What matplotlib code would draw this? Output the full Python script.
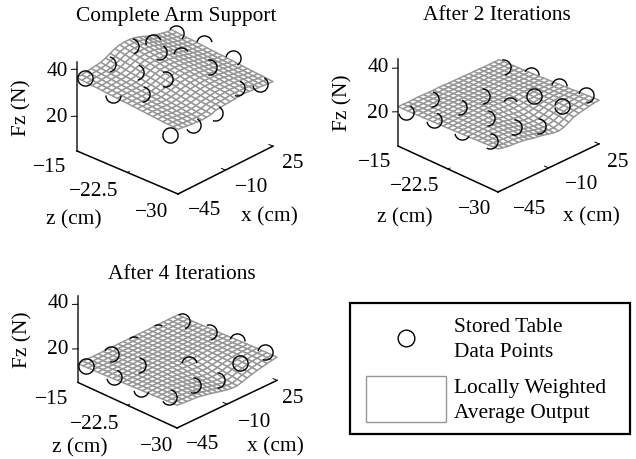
import numpy as np
import matplotlib
matplotlib.use("Agg")
import matplotlib.pyplot as plt
from matplotlib.path import Path
from matplotlib.patches import Rectangle
from mpl_toolkits.mplot3d import proj3d

plt.rcParams['font.family'] = ['Liberation Serif', 'DejaVu Serif']

# mesh axes (x along columns, z along rows)
mesh_x = [-45, -41.5, -38, -34.5, -31, -27.5, -24, -20.5, -17, -13.5, -10,
          -6.5, -3, 0.5, 4, 7.5, 11, 14.5, 18, 21.5, 25]
mesh_z = [-15, -15.75, -16.5, -17.25, -18, -18.75, -19.5, -20.25, -21, -21.75, -22.5,
          -23.25, -24, -24.75, -25.5, -26.25, -27, -27.75, -28.5, -29.25, -30]

# stored table locations
table_x = [-45, -28, -11.5, 5, 22]
table_z = [-16.25, -20.4, -24.6, -28.75]

# stored table force values
table_a = [[37.6, 38.7, 41.6, 38.7, 37.3],
           [35.6, 40.3, 44.0, 38.2, 38.2],
           [41.1, 42.6, 44.0, 38.3, 37.2],
           [29.0, 28.3, 28.3, 34.1, 30.8]]
table_b = [[21.7, 22.3, 21.2, 21.3, 21.1],
           [23.7, 24.6, 24.3, 24.0, 23.4],
           [24.1, 25.3, 25.9, 24.9, 24.3],
           [26.1, 27.0, 22.0, 26.4, 25.8]]
table_c = [[13.8, 14.0, 13.8, 14.0, 13.7],
           [14.7, 14.8, 15.7, 15.9, 14.5],
           [15.0, 16.6, 16.0, 16.2, 16.0],
           [16.9, 17.3, 14.7, 17.0, 16.8]]

# locally weighted output
surf_a = [
    [36.4,36.6,36.9,37.2,37.5,37.8,38.6,39.6,40.6,41.2,41.4,41.4,41.1,40.5,39.7,38.8,38.1,37.5,37.0,36.6,36.4],
    [36.2,36.4,36.7,37.0,37.2,37.5,38.3,39.2,40.2,40.8,41.0,41.0,40.7,40.2,39.4,38.5,37.9,37.3,36.8,36.4,36.2],
    [36.0,36.2,36.5,36.7,36.9,37.2,37.9,38.8,39.8,40.4,40.6,40.6,40.4,39.8,39.1,38.3,37.7,37.1,36.6,36.2,36.0],
    [35.8,36.0,36.2,36.5,36.7,36.9,37.6,38.5,39.4,40.0,40.2,40.2,40.0,39.5,38.8,38.0,37.4,36.9,36.4,36.0,35.8],
    [35.7,35.8,36.0,36.2,36.4,36.6,37.3,38.1,39.0,39.6,39.8,39.8,39.6,39.1,38.5,37.8,37.2,36.7,36.2,35.8,35.7],
    [35.5,35.6,35.8,36.0,36.1,36.3,36.9,37.7,38.6,39.2,39.4,39.4,39.2,38.8,38.2,37.5,37.0,36.5,36.0,35.7,35.5],
    [35.3,35.4,35.6,35.7,35.8,36.0,36.6,37.3,38.2,38.8,39.0,39.0,38.8,38.4,37.9,37.3,36.8,36.3,35.8,35.5,35.3],
    [35.1,35.2,35.3,35.4,35.5,35.7,36.2,36.9,37.7,38.3,38.6,38.6,38.4,38.1,37.6,37.0,36.5,36.1,35.6,35.3,35.1],
    [34.9,35.0,35.1,35.2,35.2,35.3,35.8,36.5,37.3,37.9,38.1,38.2,38.0,37.7,37.3,36.8,36.3,35.9,35.4,35.1,34.9],
    [34.7,34.8,34.9,34.9,34.9,35.0,35.5,36.1,36.8,37.4,37.7,37.8,37.6,37.4,37.0,36.5,36.1,35.7,35.2,34.9,34.7],
    [34.6,34.6,34.6,34.6,34.6,34.7,35.1,35.7,36.4,37.0,37.3,37.4,37.3,37.1,36.7,36.3,35.9,35.5,35.0,34.7,34.6],
    [34.4,34.4,34.4,34.3,34.3,34.4,34.7,35.3,36.0,36.5,36.9,37.0,36.9,36.7,36.4,36.0,35.6,35.3,34.9,34.5,34.4],
    [34.2,34.2,34.1,34.1,34.0,34.0,34.4,34.9,35.5,36.1,36.4,36.6,36.5,36.4,36.1,35.8,35.4,35.1,34.7,34.3,34.2],
    [34.0,34.0,33.9,33.8,33.7,33.7,34.0,34.5,35.1,35.6,36.0,36.1,36.1,36.0,35.8,35.5,35.2,34.9,34.5,34.2,34.0],
    [33.8,33.8,33.6,33.5,33.4,33.4,33.7,34.1,34.6,35.2,35.5,35.7,35.8,35.7,35.5,35.3,35.0,34.7,34.3,34.0,33.8],
    [33.6,33.6,33.4,33.2,33.1,33.1,33.3,33.7,34.2,34.7,35.1,35.3,35.4,35.3,35.2,35.0,34.7,34.4,34.1,33.8,33.6],
    [33.4,33.4,33.2,33.0,32.8,32.8,33.0,33.3,33.9,34.3,34.6,34.9,35.0,35.0,34.9,34.7,34.5,34.2,33.9,33.6,33.4],
    [33.2,33.2,32.9,32.7,32.5,32.4,32.6,32.9,33.6,33.9,34.2,34.5,34.7,34.7,34.6,34.5,34.3,34.0,33.7,33.4,33.2],
    [33.1,33.0,32.7,32.5,32.3,32.2,32.3,32.6,33.4,33.6,33.9,34.1,34.4,34.5,34.4,34.2,34.0,33.7,33.4,33.2,33.1],
    [32.9,32.7,32.4,32.2,32.0,31.9,32.0,32.3,33.1,33.3,33.5,33.7,34.1,34.1,34.0,33.9,33.7,33.4,33.2,33.0,32.9],
    [32.7,32.5,32.2,32.0,31.8,31.6,31.7,32.0,32.8,33.0,33.2,33.3,33.5,33.8,33.8,33.6,33.4,33.2,33.0,32.8,32.7]]
surf_b = [
    [22.3,22.3,22.2,22.3,22.4,22.3,22.2,22.2,22.3,22.2,22.1,22.1,22.0,22.0,21.9,21.9,21.9,21.8,21.8,21.8,21.8],
    [22.4,22.4,22.3,22.4,22.5,22.4,22.4,22.3,22.4,22.3,22.3,22.2,22.1,22.1,22.0,22.0,22.0,21.9,21.9,21.9,21.9],
    [22.4,22.5,22.4,22.5,22.6,22.6,22.5,22.5,22.5,22.4,22.4,22.3,22.2,22.2,22.2,22.1,22.1,22.0,22.0,22.0,22.0],
    [22.5,22.6,22.5,22.6,22.7,22.7,22.7,22.6,22.6,22.6,22.5,22.4,22.3,22.3,22.3,22.2,22.2,22.1,22.1,22.1,22.1],
    [22.6,22.7,22.6,22.7,22.8,22.8,22.8,22.8,22.8,22.7,22.6,22.5,22.4,22.4,22.4,22.4,22.3,22.3,22.2,22.2,22.2],
    [22.6,22.7,22.7,22.8,22.9,23.0,23.0,22.9,22.9,22.8,22.7,22.6,22.5,22.5,22.5,22.5,22.5,22.4,22.3,22.3,22.3],
    [22.7,22.8,22.8,22.9,23.0,23.1,23.1,23.1,23.0,23.0,22.8,22.7,22.6,22.6,22.7,22.7,22.6,22.5,22.4,22.4,22.4],
    [22.8,22.9,22.9,23.0,23.1,23.2,23.2,23.2,23.2,23.1,22.9,22.7,22.6,22.7,22.8,22.8,22.8,22.7,22.6,22.5,22.5],
    [22.9,22.9,23.0,23.1,23.2,23.3,23.3,23.3,23.3,23.2,23.0,22.8,22.7,22.8,22.9,22.9,22.9,22.8,22.7,22.6,22.6],
    [22.9,23.0,23.1,23.2,23.3,23.3,23.4,23.4,23.4,23.3,23.1,22.9,22.8,22.9,23.0,23.1,23.1,23.0,22.9,22.8,22.8],
    [23.0,23.1,23.2,23.3,23.4,23.4,23.5,23.5,23.5,23.4,23.2,22.9,22.8,22.9,23.1,23.2,23.2,23.1,23.0,22.9,22.9],
    [23.1,23.2,23.3,23.4,23.4,23.4,23.4,23.3,23.2,23.0,22.7,22.5,22.5,22.6,22.9,23.0,23.1,23.1,23.1,23.0,23.0],
    [23.2,23.3,23.4,23.4,23.4,23.3,23.3,23.1,22.9,22.6,22.3,22.1,22.2,22.4,22.7,22.9,23.1,23.2,23.2,23.2,23.2],
    [23.3,23.4,23.5,23.5,23.5,23.3,23.1,22.8,22.5,22.2,21.8,21.6,21.8,22.1,22.5,22.9,23.1,23.3,23.3,23.3,23.3],
    [23.4,23.5,23.5,23.5,23.5,23.2,22.9,22.6,22.1,21.7,21.4,21.2,21.4,21.8,22.4,22.9,23.2,23.4,23.5,23.5,23.4],
    [23.5,23.6,23.6,23.6,23.5,23.2,22.8,22.3,21.7,21.2,20.9,20.7,20.9,21.5,22.3,23.0,23.3,23.5,23.6,23.6,23.6],
    [23.6,23.6,23.5,23.5,23.3,23.0,22.6,22.1,21.5,20.9,20.6,20.4,20.6,21.2,22.1,22.8,23.2,23.5,23.7,23.8,23.8],
    [23.7,23.6,23.4,23.3,23.2,22.9,22.4,21.9,21.3,20.7,20.3,20.0,20.2,20.9,21.9,22.6,23.1,23.5,23.8,23.9,23.9],
    [23.8,23.6,23.3,23.2,23.0,22.7,22.2,21.7,21.2,20.6,20.1,19.7,19.8,20.5,21.6,22.5,23.1,23.4,23.8,24.0,24.1],
    [23.9,23.5,23.1,22.9,22.8,22.5,22.0,21.4,21.0,20.5,20.0,19.5,19.4,20.1,21.2,22.3,23.0,23.3,23.7,24.1,24.2],
    [24.0,23.5,23.0,22.8,22.6,22.3,21.8,21.2,20.9,20.4,19.9,19.3,19.0,19.6,20.8,22.1,22.7,23.2,23.7,24.1,24.3]]
surf_c = [
    [13.3,13.3,13.4,13.4,13.4,13.5,13.5,13.5,13.6,13.6,13.6,13.6,13.7,13.7,13.7,13.8,13.8,13.8,13.9,13.9,13.9],
    [13.4,13.4,13.4,13.5,13.5,13.6,13.6,13.6,13.6,13.7,13.7,13.7,13.7,13.8,13.8,13.8,13.9,13.9,13.9,13.9,13.9],
    [13.5,13.5,13.5,13.5,13.6,13.6,13.7,13.7,13.7,13.7,13.7,13.8,13.8,13.8,13.8,13.9,13.9,13.9,14.0,14.0,14.0],
    [13.6,13.6,13.6,13.6,13.7,13.7,13.8,13.8,13.8,13.8,13.8,13.8,13.8,13.9,13.9,13.9,14.0,14.0,14.0,14.0,14.0],
    [13.6,13.7,13.7,13.7,13.8,13.8,13.9,13.9,13.9,13.9,13.9,13.9,13.9,13.9,14.0,14.0,14.0,14.1,14.1,14.1,14.1],
    [13.7,13.8,13.8,13.8,13.9,13.9,14.0,14.0,14.0,14.0,14.0,14.0,14.0,14.0,14.0,14.1,14.1,14.1,14.2,14.2,14.2],
    [13.8,13.9,13.9,13.9,14.0,14.0,14.1,14.1,14.1,14.1,14.1,14.0,14.0,14.1,14.1,14.1,14.2,14.2,14.2,14.3,14.3],
    [13.9,13.9,14.0,14.0,14.1,14.1,14.2,14.2,14.2,14.2,14.1,14.1,14.1,14.1,14.2,14.2,14.3,14.3,14.3,14.3,14.4],
    [14.0,14.0,14.1,14.1,14.2,14.2,14.3,14.3,14.3,14.3,14.2,14.2,14.2,14.2,14.2,14.3,14.3,14.4,14.4,14.4,14.4],
    [14.1,14.1,14.2,14.2,14.3,14.3,14.4,14.4,14.4,14.4,14.3,14.2,14.2,14.3,14.3,14.4,14.4,14.4,14.5,14.5,14.5],
    [14.2,14.2,14.3,14.3,14.4,14.4,14.5,14.5,14.5,14.4,14.3,14.2,14.2,14.3,14.4,14.5,14.5,14.5,14.6,14.6,14.6],
    [14.3,14.3,14.4,14.4,14.4,14.5,14.5,14.4,14.3,14.2,14.0,13.9,14.0,14.1,14.3,14.4,14.5,14.6,14.6,14.6,14.7],
    [14.4,14.4,14.5,14.5,14.5,14.5,14.4,14.3,14.1,13.9,13.7,13.6,13.7,13.9,14.1,14.3,14.5,14.6,14.7,14.7,14.8],
    [14.5,14.5,14.6,14.6,14.6,14.5,14.3,14.1,13.8,13.5,13.3,13.2,13.3,13.6,13.9,14.3,14.5,14.6,14.8,14.8,14.9],
    [14.6,14.6,14.7,14.7,14.6,14.5,14.2,13.9,13.5,13.2,12.9,12.8,12.9,13.3,13.7,14.2,14.5,14.7,14.8,14.9,15.0],
    [14.7,14.7,14.7,14.7,14.6,14.4,14.1,13.6,13.2,12.8,12.5,12.4,12.5,13.0,13.6,14.1,14.5,14.7,14.9,15.0,15.1],
    [14.8,14.8,14.8,14.7,14.6,14.3,14.0,13.5,13.0,12.5,12.2,12.0,12.2,12.7,13.4,14.0,14.4,14.7,15.0,15.1,15.2],
    [14.9,14.8,14.8,14.7,14.5,14.2,13.8,13.4,12.9,12.3,11.9,11.7,11.8,12.4,13.2,13.8,14.3,14.6,14.9,15.1,15.2],
    [15.0,14.9,14.8,14.6,14.5,14.2,13.7,13.3,12.7,12.2,11.7,11.4,11.5,12.1,12.9,13.6,14.2,14.6,14.9,15.2,15.3],
    [15.1,14.9,14.7,14.6,14.4,14.1,13.6,13.1,12.6,12.0,11.5,11.2,11.2,11.8,12.7,13.3,13.9,14.4,14.8,15.1,15.3],
    [15.1,14.9,14.7,14.5,14.4,14.0,13.5,13.0,12.4,11.9,11.4,11.0,11.0,11.6,12.4,13.0,13.6,14.1,14.6,15.0,15.3]]

titles = ["Complete Arm Support", "After 2 Iterations", "After 4 Iterations"]
fz_ticks = [20, 40]
x_ticks = [-45, -10, 25]
z_ticks = [-15, -22.5, -30]
x_tick_labels = ["\u221245", "\u221210", "25"]
z_tick_labels = ["\u221215", "\u221222.5", "\u221230"]
legend_labels = ["Stored Table\nData Points", "Locally Weighted\nAverage Output"]

# which part of each circle shows through the mesh, degrees
arcs_a = [[(0, 360), (-80, 80), (-70, 80), (20, 200), (-45, 150)],
          [(180, 360), (-80, 70), (-110, 60), (30, 170), (10, 170)],
          [(-90, 80), (-110, 110), None, (-100, 100), (-60, 170)],
          [(0, 360), (-150, 60), (-110, 60), (-110, 70), (-170, 60)]]
arcs_b = [[(-170, 60), (-90, 80), None, None, (-80, 100)],
          [(-170, 70), (-100, 70), (-90, 90), None, (0, 150)],
          [(190, 330), (-90, 90), (30, 150), (-180, 180), (0, 170)],
          [(-120, 90), (-110, 90), (-100, 90), (-170, 170), (-90, 170)]]
arcs_c = [[(0, 360), (-100, 150), (60, 130), (60, 120), (-70, 120)],
          [(-170, 70), (-90, 80), None, None, (-80, 110)],
          [(190, 340), None, (10, 170), None, (0, 160)],
          [(-150, 80), (-110, 90), (-90, 90), (-180, 180), (-110, 170)]]

W, H = 636, 460
fig = plt.figure(figsize=(W / 100, H / 100), dpi=100)
GREY = '#969696'


def arc_marker(t1, t2):
    arc = Path.arc(t1, t2)
    # stray moveto keeps the marker scale the same for every arc
    verts = np.vstack([[1.1, 1.1], arc.vertices])
    codes = np.concatenate([[Path.MOVETO], arc.codes])
    return Path(verts, codes)


def to_px(ax, x, z, h):
    px, py, _ = proj3d.proj_transform(x, z, h, ax.get_proj())
    return ax.transData.transform((px, py))


def panel(surf, table, arcs, fz_lim, corner, width, view, box):
    ax = fig.add_axes([0.1, 0.1, 0.4, 0.4], projection='3d', proj_type='ortho',
                      computed_zorder=False)
    ax.set_xlim(-45, 25)
    ax.set_ylim(-30, -15)
    ax.set_zlim(*fz_lim)
    ax.view_init(elev=view[0], azim=view[1])
    ax.set_axis_off()
    ax.patch.set_alpha(0)
    zoom = 1.0
    ax.set_box_aspect(box, zoom=zoom)

    # fit the box on the pixel corners of the reference
    for _ in range(3):
        fig.canvas.draw()
        left = to_px(ax, -45, -15, fz_lim[0])
        right = to_px(ax, 25, -30, fz_lim[0])
        zoom *= width / (right[0] - left[0])
        ax.set_box_aspect(box, zoom=zoom)
        fig.canvas.draw()
        bottom = to_px(ax, -45, -30, fz_lim[0])
        pos = ax.get_position()
        ax.set_position([pos.x0 + (corner[0] - bottom[0]) / W,
                         pos.y0 + (H - corner[1] - bottom[1]) / H,
                         pos.width, pos.height])

    X, Z = np.meshgrid(mesh_x, mesh_z)
    mesh = ax.plot_surface(X, Z, np.array(surf), rstride=1, cstride=1, color='white',
                           edgecolor=GREY, linewidth=1.05, shade=False, zorder=2)
    mesh.set_clip_on(False)

    # box lines and ticks
    lo, hi = fz_lim
    ax.plot([-45, -45], [-15, -15], [lo, hi], color='#222222', lw=1.1, zorder=3, clip_on=False)
    ax.plot([-45, -45], [-15, -30], [lo, lo], color='black', lw=1.1, zorder=3, clip_on=False)
    ax.plot([-45, 25], [-30, -30], [lo, lo], color='black', lw=1.1, zorder=3, clip_on=False)
    for t in fz_ticks:
        ax.plot([-45, -47], [-15, -14.6], [t, t], color='black', lw=0.7, zorder=3, clip_on=False)
    for t in x_ticks[1:]:
        ax.plot([t, t], [-30, -29.4], [lo, lo], color='black', lw=0.7, zorder=3, clip_on=False)
    for t in z_ticks[1:]:
        ax.plot([-45, -43.6], [t, t], [lo, lo], color='black', lw=0.7, zorder=3, clip_on=False)

    for i, zv in enumerate(table_z):
        for j, xv in enumerate(table_x):
            if arcs[i][j] is None:
                continue
            ax.plot([xv], [zv], [table[i][j]], ls='none', marker=arc_marker(*arcs[i][j]),
                    ms=12, mfc='none', mec='black', mew=1.0, zorder=4, clip_on=False)
    return ax


panel(surf_a, table_a, arcs_a, (5.2, 43), (178, 195), 196, (27.6, -137.4), (140, 137, 100))
panel(surf_b, table_b, arcs_b, (4.3, 44), (498, 193), 201, (27.9, -135.5), (144, 140, 98))
panel(surf_c, table_c, arcs_c, (4.9, 43.7), (177, 429), 199, (27.9, -135.5), (143, 139, 98))

# overlay in reference pixels for the text and the legend box
over = fig.add_axes([0, 0, 1, 1])
over.set_xlim(0, W)
over.set_ylim(H, 0)
over.axis('off')
over.patch.set_alpha(0)

FS = 15.4


def label(x, y, s, **kw):
    kw.setdefault('ha', 'center')
    over.text(x, y, s, fontsize=FS, va='center', **kw)


layout = [
    dict(title=(176, 16), fz=[(57, 117), (57, 72)], ylab=(22, 108),
         z=[(50, 168), (94, 192), (152, 213)], zlab=(74, 220),
         x=[(205, 211), (252, 188), (293, 164)], xlab=(269, 217)),
    dict(title=(497, 16), fz=[(378, 113), (378, 68)], ylab=(343, 103),
         z=[(375, 163), (415, 187), (475, 210)], zlab=(405, 218),
         x=[(530, 210), (582, 185), (618, 163)], xlab=(591, 217)),
    dict(title=(182, 275), fz=[(58, 350), (58, 304)], ylab=(23, 340),
         z=[(52, 400), (95, 425), (157, 447)], zlab=(80, 448),
         x=[(203, 445), (255, 423), (293, 399)], xlab=(275, 447)),
]
for title, lay in zip(titles, layout):
    label(*lay['title'], title)
    for pos, t in zip(lay['fz'], fz_ticks):
        label(*pos, str(t))
    label(*lay['ylab'], "Fz (N)", rotation=90)
    for pos, s in zip(lay['z'], z_tick_labels):
        label(*pos, s)
    for pos, s in zip(lay['x'], x_tick_labels):
        label(*pos, s)
    label(*lay['zlab'], "z (cm)")
    label(*lay['xlab'], "x (cm)")

over.add_patch(Rectangle((350, 304), 280, 131, fc='white', ec='black', lw=1.6))
over.plot([406], [339], marker='o', ms=12, mfc='none', mec='black', mew=1.0)
over.add_patch(Rectangle((366, 377), 80, 46, fc='white', ec=GREY, lw=1.0))
label(454, 340, legend_labels[0], ha='left', linespacing=1.37)
label(454, 401, legend_labels[1], ha='left', linespacing=1.37)

fig.savefig("out.png", dpi=100)
